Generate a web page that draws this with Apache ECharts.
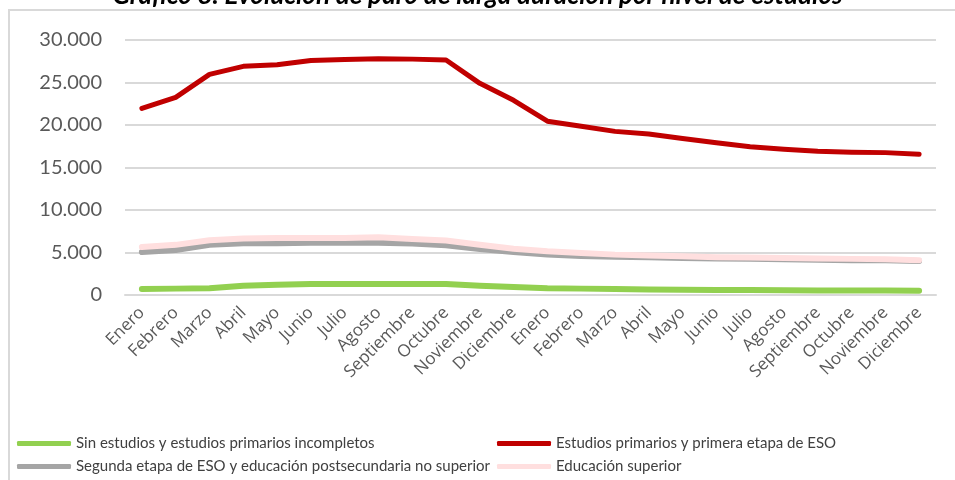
<!DOCTYPE html>
<html>
<head>
<meta charset="utf-8">
<title>Paro de larga duración por nivel de estudios</title>
<script src="https://cdn.jsdelivr.net/npm/echarts@6/dist/echarts.min.js"></script>
<style>
    html, body { margin: 0; padding: 0; background: #fff; }
    #paroChart { width: 955px; height: 480px; }
</style>
</head>
<body>
<div id="paroChart"></div>
<script>
// meses (dos años seguidos)
var meses = ['Enero','Febrero','Marzo','Abril','Mayo','Junio','Julio','Agosto','Septiembre','Octubre','Noviembre','Diciembre',
             'Enero','Febrero','Marzo','Abril','Mayo','Junio','Julio','Agosto','Septiembre','Octubre','Noviembre','Diciembre'];

// nombres de las series
var nombreSinEstudios = 'Sin estudios y estudios primarios incompletos';
var nombrePrimarios = 'Estudios primarios y primera etapa de ESO';
var nombreSegunda = 'Segunda etapa de ESO y educación postsecundaria no superior';
var nombreSuperior = 'Educación superior';

// valores
var sinEstudios = [700, 750, 800, 1100, 1200, 1300, 1300, 1300, 1300, 1300, 1100, 950,
                   800, 750, 700, 650, 620, 600, 580, 560, 540, 530, 520, 500];
var primarios = [21950, 23250, 25950, 26900, 27100, 27600, 27700, 27800, 27750, 27650, 24900, 22900,
                 20450, 19850, 19250, 18950, 18400, 17900, 17450, 17150, 16900, 16800, 16750, 16550];
var segunda = [5050, 5300, 5900, 6100, 6100, 6150, 6150, 6150, 6050, 5850, 5400, 5050,
               4750, 4600, 4500, 4450, 4350, 4300, 4250, 4200, 4150, 4100, 4100, 4000];
var superior = [5650, 5900, 6450, 6650, 6700, 6700, 6700, 6800, 6600, 6400, 5900, 5450,
                5150, 4950, 4750, 4650, 4550, 4450, 4400, 4350, 4300, 4250, 4200, 4100];

// ticks del eje Y
var ejeYMin = 0, ejeYMax = 30000, ejeYPaso = 5000;

var paro = {
    init: function () {
        paro.chart = echarts.init(document.getElementById('paroChart'), null, { renderer: 'canvas' });
        paro.chart.setOption(paro.getOption());
    },
    // 30000 -> 30.000
    miles: function (v) {
        return String(v).replace(/\B(?=(\d{3})+(?!\d))/g, '.');
    },
    linea: function (nombre, datos, color, ancho) {
        return {
            name: nombre,
            type: 'line',
            data: datos,
            showSymbol: false,
            symbol: 'none',
            lineStyle: { color: color, width: ancho, cap: 'round', join: 'round' },
            itemStyle: { color: color }
        };
    },
    // una leyenda por serie, para colocarlas en dos columnas
    leyenda: function (nombre, left, top) {
        return {
            left: left, top: top,
            padding: 0,
            itemWidth: 54, itemHeight: 5,
            icon: 'roundRect',
            textStyle: { fontFamily: 'Lato', fontSize: 15, color: '#404040' },
            data: [nombre]
        };
    },
    getOption: function () {
        return {
            animation: false,
            backgroundColor: '#fff',
            title: {
                text: 'Gráfico 8. Evolución de paro de larga duración por nivel de estudios',
                left: 'center',
                top: -22,
                textStyle: { fontFamily: 'Lato', fontSize: 26, fontWeight: 'bold', fontStyle: 'italic', color: '#000' }
            },
            graphic: [{
                type: 'rect',
                shape: { x: 9, y: 10, width: 1000, height: 520 },
                style: { fill: 'none', stroke: '#d9d9d9', lineWidth: 2 },
                silent: true, z: -1
            }],
            grid: { left: 125, right: 19, top: 40, bottom: 185, containLabel: false },
            legend: [
                paro.leyenda(nombreSinEstudios, 17, 436),
                paro.leyenda(nombreSegunda, 17, 459),
                paro.leyenda(nombrePrimarios, 497, 436),
                paro.leyenda(nombreSuperior, 497, 459)
            ],
            xAxis: {
                type: 'category',
                data: meses,
                boundaryGap: true,
                axisLine: { show: true, lineStyle: { color: '#d9d9d9', width: 2 } },
                axisTick: { show: false },
                axisLabel: { rotate: 45, margin: 15, interval: 0, fontFamily: 'Open Sans', fontSize: 17, color: '#595959' }
            },
            yAxis: {
                type: 'value',
                min: ejeYMin, max: ejeYMax, interval: ejeYPaso,
                axisLine: { show: false },
                axisTick: { show: false },
                splitLine: { lineStyle: { color: '#d9d9d9', width: 2 } },
                axisLabel: { margin: 23, fontFamily: 'Lato', fontSize: 20, color: '#595959', formatter: paro.miles }
            },
            series: [
                paro.linea(nombreSinEstudios, sinEstudios, '#92d050', 6),
                paro.linea(nombrePrimarios, primarios, '#c00000', 5),
                paro.linea(nombreSegunda, segunda, '#a5a5a5', 6),
                paro.linea(nombreSuperior, superior, '#ffdfdf', 6)
            ]
        };
    }
};

paro.init();
</script>
</body>
</html>
